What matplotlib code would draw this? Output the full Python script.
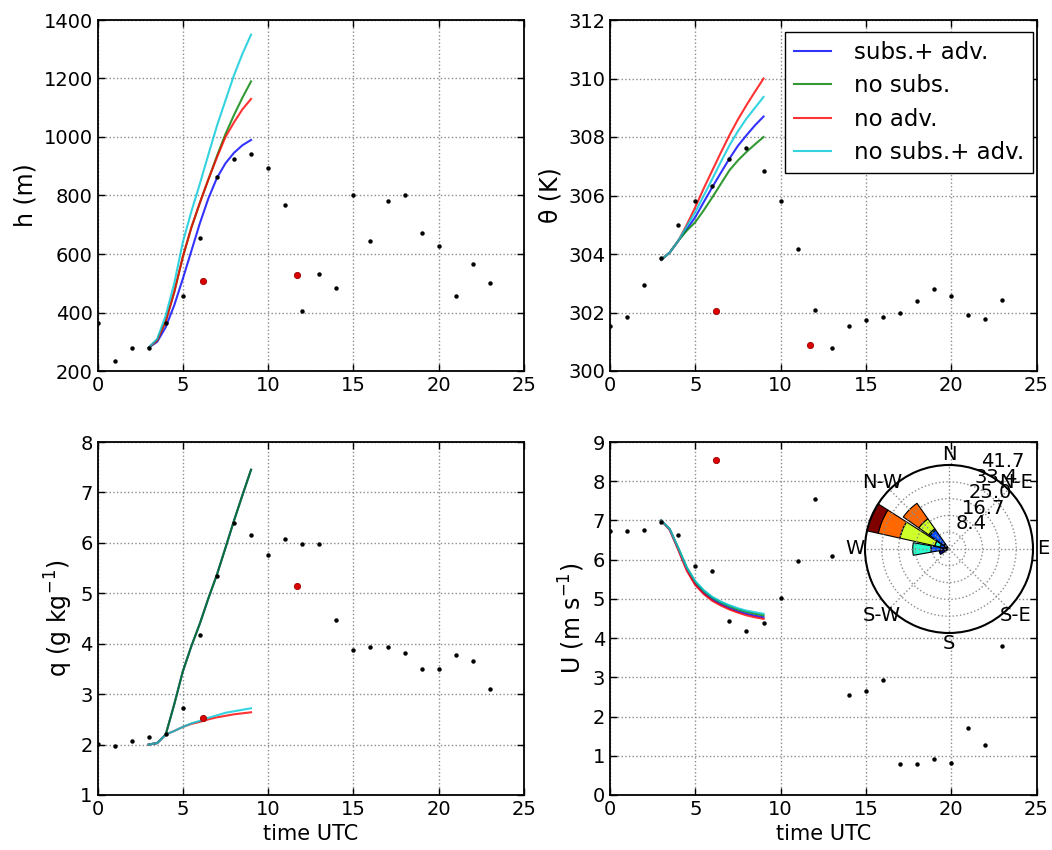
import numpy as np
import matplotlib.pyplot as plt
from matplotlib import cm

# hourly observations
t_obs = [0, 1, 2, 3, 4, 5, 6, 7, 8, 9, 10, 11, 12, 13, 14, 15, 16, 17, 18, 19, 20, 21, 22, 23]
h_obs = [363, 234, 280, 280, 363, 455, 655, 862, 925, 943, 895, 766, 405, 533, 485, 800,
         643, 782, 800, 673, 628, 455, 567, 502]
th_obs = [301.55, 301.86, 302.94, 303.85, 305.0, 305.8, 306.31, 307.25, 307.62, 306.85, 305.82,
          304.18, 302.1, 300.8, 301.55, 301.76, 301.83, 302.0, 302.38, 302.79, 302.56, 301.9,
          301.79, 302.43]
q_obs = [2.02, 1.97, 2.07, 2.15, 2.2, 2.73, 4.18, 5.35, 6.39, 6.16, 5.76, 6.08, 5.97, 5.98,
         4.47, 3.88, 3.94, 3.93, 3.81, 3.49, 3.49, 3.78, 3.66, 3.11]
u_obs = [6.73, 6.72, 6.75, 6.95, 6.62, 5.85, 5.71, 4.43, 4.19, 4.39, 5.03, 5.96, 7.54, 6.09,
         2.56, 2.64, 2.93, 0.79, 0.8, 0.91, 0.82, 1.71, 1.28, 3.8]

# radiosondes (red)
t_snd = [6.2, 11.7]
h_snd = [507, 527]
th_snd = [302.05, 300.9]
q_snd = [2.53, 5.15]
t_snd_u = [6.24]
u_snd = [8.55]

# model runs
tm = [3, 3.5, 4, 4.5, 5, 5.5, 6, 6.5, 7, 7.5, 8, 8.5, 9]
runs = ['subs.+ adv.', 'no subs.', 'no adv.', 'no subs.+ adv.']
colors = ['#0000ff', '#008000', '#ff0000', '#00c8d8']

h_mod = [
    [280, 300, 350, 425, 515, 610, 705, 790, 860, 910, 946, 972, 990],
    [280, 305, 370, 470, 590, 690, 775, 855, 935, 1010, 1075, 1135, 1190],
    [280, 305, 370, 470, 590, 690, 775, 855, 930, 1000, 1050, 1095, 1130],
    [280, 310, 390, 500, 640, 745, 840, 940, 1038, 1125, 1211, 1285, 1350],
]
th_mod = [
    [303.8, 304.05, 304.45, 304.85, 305.26, 305.78, 306.29, 306.78, 307.26, 307.7, 308.06, 308.4, 308.7],
    [303.8, 304.05, 304.45, 304.8, 305.09, 305.5, 305.94, 306.4, 306.86, 307.2, 307.49, 307.75, 308.0],
    [303.8, 304.05, 304.45, 305.0, 305.6, 306.25, 306.86, 307.47, 308.06, 308.6, 309.09, 309.55, 310.0],
    [303.8, 304.05, 304.45, 304.95, 305.43, 306.0, 306.57, 307.15, 307.71, 308.2, 308.63, 309.0, 309.37],
]
q_mod = [
    [2.0, 2.03, 2.2, 2.8, 3.45, 3.95, 4.4, 4.9, 5.37, 5.9, 6.44, 6.95, 7.45],
    [2.0, 2.03, 2.2, 2.8, 3.45, 3.95, 4.4, 4.9, 5.37, 5.9, 6.44, 6.95, 7.45],
    [2.0, 2.03, 2.2, 2.27, 2.35, 2.41, 2.45, 2.5, 2.54, 2.57, 2.6, 2.62, 2.64],
    [2.0, 2.03, 2.2, 2.27, 2.35, 2.42, 2.47, 2.53, 2.58, 2.63, 2.66, 2.69, 2.72],
]
u_mod = [
    [7.0, 6.77, 6.27, 5.75, 5.38, 5.15, 4.98, 4.86, 4.76, 4.68, 4.62, 4.57, 4.53],
    [7.0, 6.78, 6.3, 5.8, 5.43, 5.2, 5.03, 4.91, 4.81, 4.73, 4.67, 4.62, 4.58],
    [7.0, 6.76, 6.25, 5.72, 5.35, 5.12, 4.95, 4.83, 4.73, 4.65, 4.58, 4.53, 4.49],
    [7.0, 6.78, 6.3, 5.8, 5.45, 5.22, 5.05, 4.93, 4.84, 4.76, 4.7, 4.66, 4.62],
]

# wind rose: direction (deg) and frequency per speed bin
rose_dir = [247.5, 270, 292.5, 315]
rose_bins = [
    [5.0, 0, 0, 0, 0, 0],
    [4.0, 5.0, 9.0, 0, 0, 0],
    [2.0, 2.5, 2.7, 17.8, 11.0, 5.6],
    [3.0, 8.5, 0.8, 6.0, 9.4, 0],
]
rose_radii = [8.34, 16.68, 25.02, 33.36, 41.7]
rose_labels = ['8.4', '16.7', '25.0', '33.4', '41.7']
compass = ['N', 'N-E', 'E', 'S-E', 'S', 'S-W', 'W', 'N-W']

fig = plt.figure(figsize=(10.52, 8.5), dpi=100)
W, H = 1052.0, 850.0


def make_ax(x0, y0, x1, y1):
    ax = fig.add_axes([x0 / W, 1 - y1 / H, (x1 - x0) / W, (y1 - y0) / H])
    ax.grid(True, color='0.55', linestyle=':', linewidth=1)
    ax.tick_params(direction='in', top=True, right=True, labelsize=14, length=5, width=1)
    for s in ax.spines.values():
        s.set_linewidth(1.3)
    ax.set_xlim(0, 25)
    ax.set_xticks([0, 5, 10, 15, 20, 25])
    return ax


def add_series(ax, obs, t_s, snd, mod):
    for i in range(4):
        ax.plot(tm, mod[i], color=colors[i], lw=1.5, alpha=0.8, label=runs[i])
    ax.plot(t_obs, obs, 'o', color='k', ms=3.2, mec='none')
    ax.plot(t_s, snd, 'o', color='#dd0000', ms=4.5, mec='#990000', mew=0.6)


ax1 = make_ax(97.5, 20, 524, 371)
add_series(ax1, h_obs, t_snd, h_snd, h_mod)
ax1.set_ylim(200, 1400)
ax1.set_yticks(range(200, 1401, 200))
ax1.set_ylabel('h (m)', fontsize=17)

ax2 = make_ax(610, 20, 1036.5, 371)
add_series(ax2, th_obs, t_snd, th_snd, th_mod)
ax2.set_ylim(300, 312)
ax2.set_yticks(range(300, 313, 2))
ax2.set_ylabel('θ (K)', fontsize=17)
ax2.legend(loc='upper left', bbox_to_anchor=(0.411, 0.966), borderaxespad=0, fontsize=16.5,
           handlelength=1.6, handletextpad=1.0, labelspacing=0.45, fancybox=False,
           edgecolor='k', framealpha=1)

ax3 = make_ax(97.5, 442, 524, 795)
add_series(ax3, q_obs, t_snd, q_snd, q_mod)
ax3.set_ylim(1, 8)
ax3.set_yticks(range(1, 9))
ax3.set_ylabel('q (g kg$^{-1}$)', fontsize=17)
ax3.set_xlabel('time UTC', fontsize=15)

ax4 = make_ax(610, 442, 1036.5, 795)
add_series(ax4, u_obs, t_snd_u, u_snd, u_mod)
ax4.set_ylim(0, 9)
ax4.set_yticks(range(0, 10))
ax4.set_ylabel('U (m s$^{-1}$)', fontsize=17)
ax4.set_xlabel('time UTC', fontsize=15)

# wind rose inset
cx, cy, r = 949, 549, 84
axr = fig.add_axes([(cx - r) / W, 1 - (cy + r) / H, 2 * r / W, 2 * r / H], projection='polar')
axr.set_theta_zero_location('N')
axr.set_theta_direction(-1)
jet = cm.jet(np.linspace(0, 1, 6))
width = np.radians(20)
for d, bins in zip(rose_dir, rose_bins):
    bottom = 0
    for k, v in enumerate(bins):
        if v > 0:
            axr.bar(np.radians(d), v, width=width, bottom=bottom, color=jet[k],
                    edgecolor='k', linewidth=0.8)
        bottom += v
axr.set_ylim(0, 41.7)
axr.set_yticks(rose_radii)
axr.set_yticklabels([])
axr.set_thetagrids(range(0, 360, 45), compass, fontsize=14)
axr.tick_params(axis='x', pad=-3)
axr.grid(True, color='0.55', linestyle=':', linewidth=1)
axr.spines['polar'].set_linewidth(1.5)
for rr, lab in zip(rose_radii, rose_labels):
    axr.text(np.radians(22.5), rr, lab, ha='left', va='bottom', fontsize=14)

fig.savefig('out.png', dpi=100)
